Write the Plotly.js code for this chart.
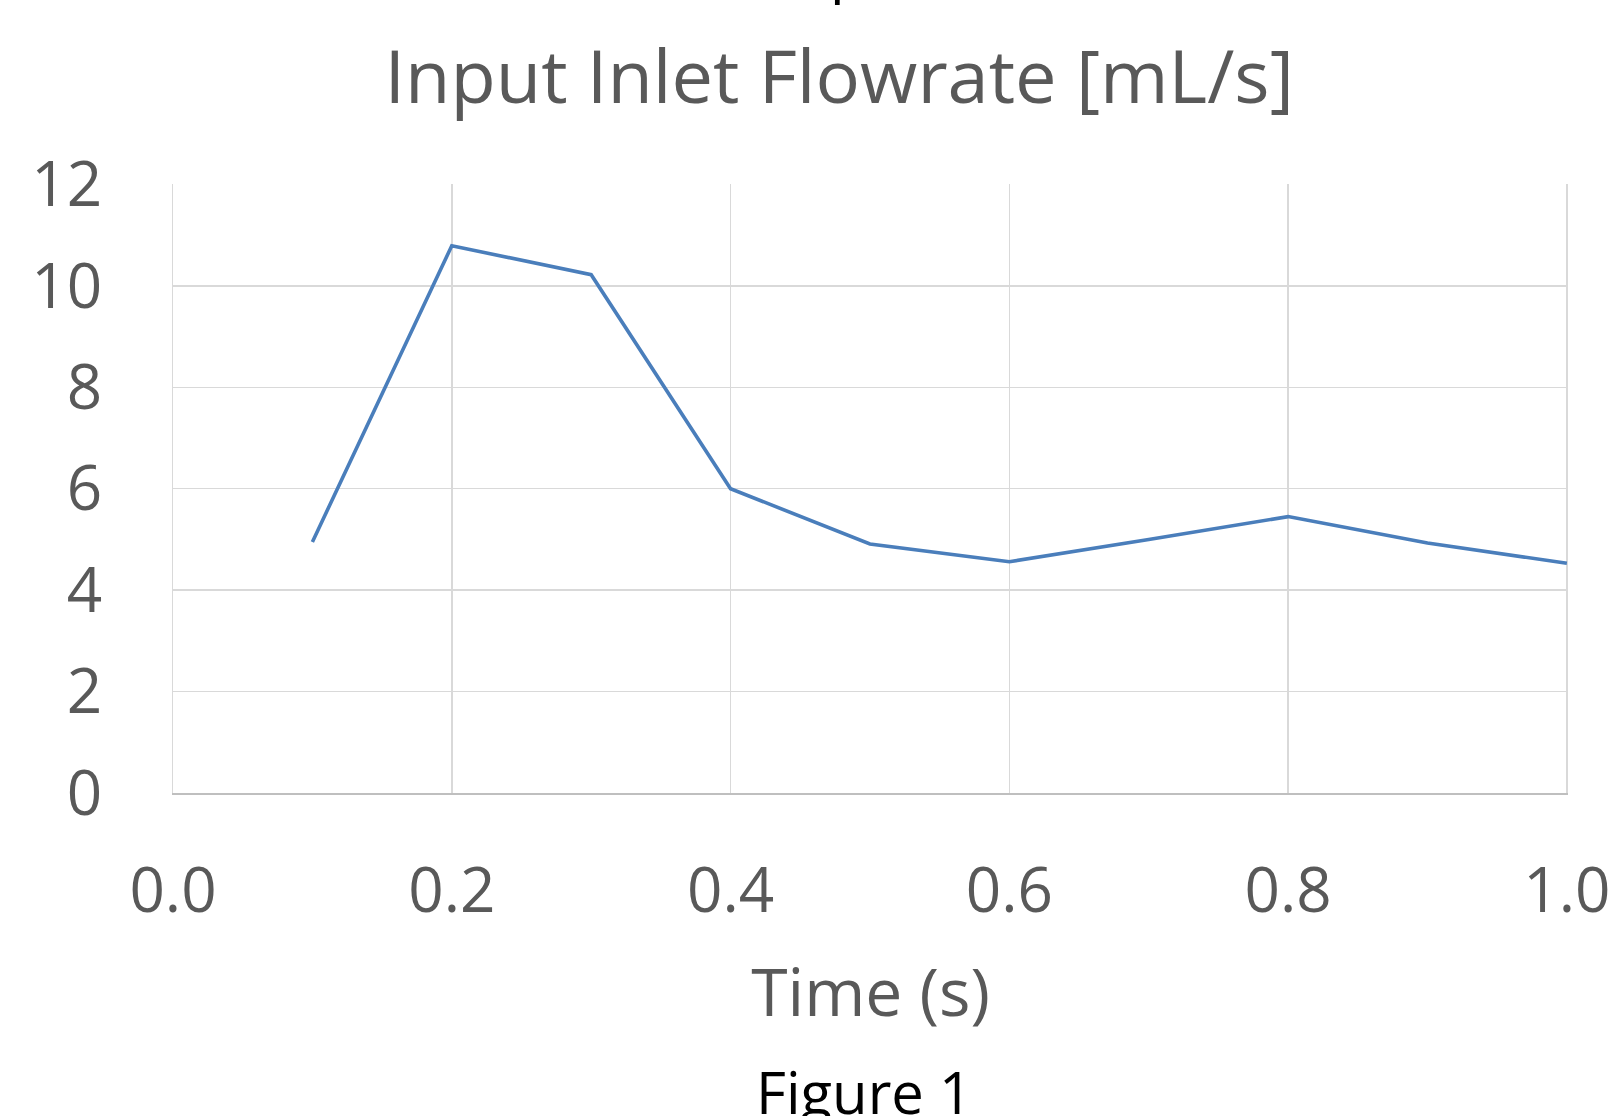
<!DOCTYPE html>
<html>
<head>
<meta charset="utf-8">
<script src="https://cdn.plot.ly/plotly-3.0.1.min.js"></script>
<style>html,body{margin:0;padding:0;background:#fff;}#chart{width:1620px;height:1116px;}</style>
</head>
<body>
<div id="chart"></div>
<script>
const timeS = [0.1, 0.2, 0.3, 0.4, 0.5, 0.6, 0.7, 0.8, 0.9, 1.0];
const flowrate = [4.95, 10.79, 10.22, 6.0, 4.91, 4.56, 5.0, 5.45, 4.93, 4.53];
const xTicks = [0, 0.2, 0.4, 0.6, 0.8, 1.0];
const yTicks = [0, 2, 4, 6, 8, 10, 12];

const FONT = 'Open Sans, Noto Sans, sans-serif';
const GREY = '#595959';

const trace = {
  x: timeS, y: flowrate, type: 'scatter', mode: 'lines',
  line: {color: '#4a7ebb', width: 3.6},
  hoverinfo: 'x+y', showlegend: false
};

const layout = {
  width: 1620, height: 1116,
  margin: {l: 172.5, r: 52, t: 184, b: 322.5},
  paper_bgcolor: '#ffffff', plot_bgcolor: '#ffffff',
  font: {family: FONT, color: GREY},
  title: {
    text: 'Input Inlet Flowrate [mL/s]',
    font: {family: FONT, size: 74, color: GREY},
    x: 0.518, xanchor: 'center', xref: 'container',
    y: 1 - 77.5/1116, yanchor: 'middle', yref: 'container'
  },
  xaxis: {
    range: [0, 1.0008], tickvals: xTicks, tickformat: '.1f',
    showgrid: true, gridcolor: '#d9d9d9', gridwidth: 1.5,
    showline: true, linecolor: '#bfbfbf', linewidth: 2,
    zeroline: false, ticks: '', ticklabelstandoff: 43,
    tickfont: {family: FONT, size: 62, color: GREY},
    title: {text: 'Time (s)', font: {family: FONT, size: 66, color: GREY}, standoff: 40}
  },
  yaxis: {
    range: [0, 12.008], tickvals: yTicks,
    showgrid: true, gridcolor: '#d9d9d9', gridwidth: 1.5,
    showline: true, linecolor: '#d9d9d9', linewidth: 1.5,
    zeroline: false, ticks: '', ticklabelstandoff: 57,
    tickfont: {family: FONT, size: 62, color: GREY}
  },
  annotations: [
    {text: 'Figure 1', xref: 'paper', yref: 'paper', x: 0.4955, y: -0.49,
     xanchor: 'center', yanchor: 'middle', showarrow: false,
     font: {family: FONT, size: 58, color: '#000000'}},
    {text: 'p', xref: 'paper', yref: 'paper', x: (848-172.5)/1395.5, y: (793.5-10)/609.5,
     xanchor: 'center', yanchor: 'bottom', showarrow: false,
     font: {family: FONT, size: 58, color: '#000000'}}
  ]
};

Plotly.newPlot('chart', [trace], layout, {displayModeBar: false, staticPlot: true});
</script>
</body>
</html>
